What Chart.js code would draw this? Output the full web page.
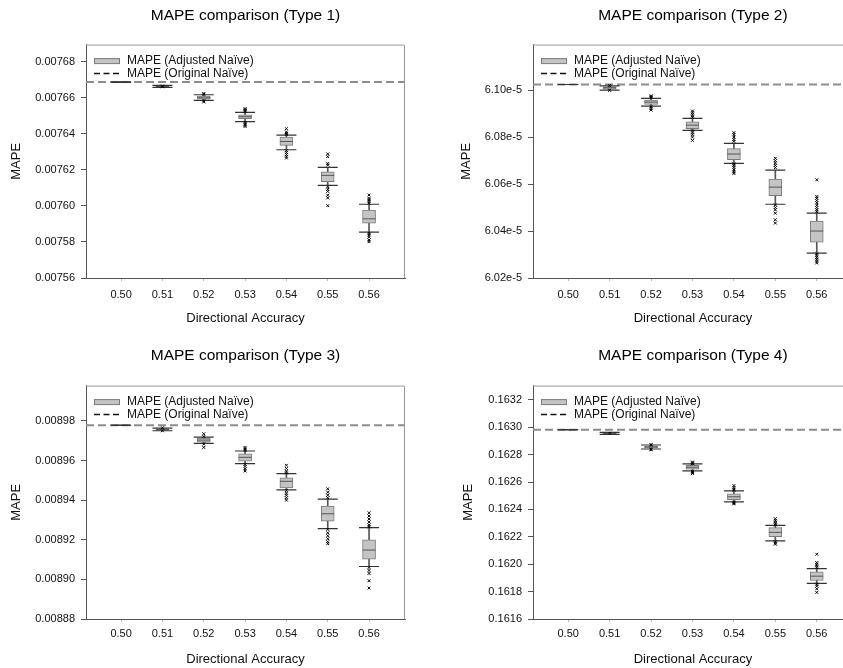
<!DOCTYPE html>
<html>
<head>
<meta charset="utf-8">
<title>MAPE comparison</title>
<script src="https://cdn.jsdelivr.net/npm/chart.js@4.4.1/dist/chart.umd.min.js"></script>
<style>
  html, body { margin: 0; padding: 0; background: #fff; }
  body { width: 843px; height: 668px; overflow: hidden; position: relative; }
  .panel { position: absolute; }
</style>
</head>
<body>
<div class="panel" style="left:0px;top:0px;width:420px;height:334px"><canvas id="chart1" width="420" height="334"></canvas></div>
<div class="panel" style="left:420px;top:0px;width:444px;height:334px"><canvas id="chart2" width="444" height="334"></canvas></div>
<div class="panel" style="left:0px;top:334px;width:420px;height:334px"><canvas id="chart3" width="420" height="334"></canvas></div>
<div class="panel" style="left:420px;top:334px;width:444px;height:334px"><canvas id="chart4" width="444" height="334"></canvas></div>

<script>
// ============================================
// DATA
// ============================================
var accuracy = [0.50, 0.51, 0.52, 0.53, 0.54, 0.55, 0.56];

// Type 1
var t1Ref = 0.0076686;
var t1Low    = [0.0076686, 0.0076657, 0.0076585, 0.0076467, 0.0076311, 0.0076113, 0.0075854];
var t1Q1     = [0.0076686, 0.0076659, 0.0076592, 0.0076483, 0.0076335, 0.0076134, 0.0075904];
var t1Median = [0.0076686, 0.0076662, 0.0076599, 0.0076494, 0.0076357, 0.0076169, 0.0075928];
var t1Q3     = [0.0076686, 0.0076666, 0.0076609, 0.0076505, 0.0076381, 0.0076189, 0.0075976];
var t1High   = [0.0076686, 0.0076668, 0.0076616, 0.0076518, 0.0076392, 0.0076213, 0.0076009];
var t1Outliers = [
    [],
    [0.0076664, 0.0076660],
    [0.0076623, 0.0076619, 0.0076582, 0.0076576],
    [0.0076539, 0.0076533, 0.0076527, 0.0076522, 0.0076463, 0.0076455, 0.0076447, 0.0076440],
    [0.0076428, 0.0076410, 0.0076402, 0.0076396, 0.0076305, 0.0076295, 0.0076285, 0.0076275, 0.0076265],
    [0.0076288, 0.0076273, 0.0076235, 0.0076226, 0.0076105, 0.0076092, 0.0076080, 0.0076059, 0.0076044, 0.0076001],
    [0.0076060, 0.0076042, 0.0076033, 0.0076024, 0.0076015, 0.0075848, 0.0075839, 0.0075826, 0.0075811, 0.0075801]
];
var t1Ticks = [0.00756, 0.00758, 0.00760, 0.00762, 0.00764, 0.00766, 0.00768];

// Type 2
var t2Ref = 6.1024e-5;
var t2Low    = [6.1024e-5, 6.1000e-5, 6.0932e-5, 6.0829e-5, 6.0688e-5, 6.0514e-5, 6.0306e-5];
var t2Q1     = [6.1024e-5, 6.1004e-5, 6.0939e-5, 6.0836e-5, 6.0704e-5, 6.0551e-5, 6.0353e-5];
var t2Median = [6.1024e-5, 6.1010e-5, 6.0949e-5, 6.0851e-5, 6.0728e-5, 6.0587e-5, 6.0400e-5];
var t2Q3     = [6.1024e-5, 6.1014e-5, 6.0958e-5, 6.0865e-5, 6.0751e-5, 6.0621e-5, 6.0442e-5];
var t2High   = [6.1024e-5, 6.1018e-5, 6.0965e-5, 6.0880e-5, 6.0773e-5, 6.0659e-5, 6.0476e-5];
var t2Outliers = [
    [],
    [6.1020e-5, 6.0999e-5],
    [6.0976e-5, 6.0972e-5, 6.0968e-5, 6.0929e-5, 6.0922e-5, 6.0915e-5],
    [6.0911e-5, 6.0904e-5, 6.0897e-5, 6.0890e-5, 6.0884e-5, 6.0826e-5, 6.0818e-5, 6.0810e-5, 6.0800e-5, 6.0786e-5],
    [6.0819e-5, 6.0810e-5, 6.0800e-5, 6.0790e-5, 6.0782e-5, 6.0686e-5, 6.0678e-5, 6.0670e-5, 6.0660e-5, 6.0652e-5, 6.0645e-5],
    [6.0710e-5, 6.0700e-5, 6.0690e-5, 6.0680e-5, 6.0670e-5, 6.0511e-5, 6.0500e-5, 6.0490e-5, 6.0476e-5, 6.0448e-5, 6.0434e-5],
    [6.0618e-5, 6.0547e-5, 6.0540e-5, 6.0530e-5, 6.0520e-5, 6.0510e-5, 6.0500e-5, 6.0490e-5, 6.0482e-5,
     6.0302e-5, 6.0295e-5, 6.0288e-5, 6.0280e-5, 6.0272e-5, 6.0264e-5]
];
var t2Ticks = [6.02e-5, 6.04e-5, 6.06e-5, 6.08e-5, 6.10e-5];

// Type 3
var t3Ref = 0.0089778;
var t3Low    = [0.0089778, 0.0089750, 0.0089686, 0.0089584, 0.0089452, 0.0089256, 0.0089065];
var t3Q1     = [0.0089778, 0.0089753, 0.0089693, 0.0089597, 0.0089462, 0.0089294, 0.0089102];
var t3Median = [0.0089778, 0.0089756, 0.0089703, 0.0089616, 0.0089495, 0.0089331, 0.0089148];
var t3Q3     = [0.0089778, 0.0089760, 0.0089713, 0.0089634, 0.0089512, 0.0089370, 0.0089199];
var t3High   = [0.0089778, 0.0089763, 0.0089718, 0.0089648, 0.0089534, 0.0089405, 0.0089261];
var t3Outliers = [
    [],
    [0.0089765, 0.0089750],
    [0.0089735, 0.0089721, 0.0089683, 0.0089666],
    [0.0089666, 0.0089658, 0.0089650, 0.0089581, 0.0089570, 0.0089558, 0.0089547],
    [0.0089576, 0.0089560, 0.0089546, 0.0089537, 0.0089448, 0.0089435, 0.0089425, 0.0089412, 0.0089400],
    [0.0089457, 0.0089440, 0.0089425, 0.0089412, 0.0089252, 0.0089235, 0.0089220, 0.0089205, 0.0089190, 0.0089180],
    [0.0089336, 0.0089320, 0.0089305, 0.0089290, 0.0089275, 0.0089265, 0.0089060, 0.0089045, 0.0089030, 0.0088993, 0.0088956]
];
var t3Ticks = [0.00888, 0.00890, 0.00892, 0.00894, 0.00896, 0.00898];

// Type 4
var t4Ref = 0.1629818;
var t4Low    = [0.1629818, 0.1629479, 0.1628412, 0.1626812, 0.1624558, 0.1621697, 0.1618594];
var t4Q1     = [0.1629818, 0.1629503, 0.1628485, 0.1626933, 0.1624703, 0.1622012, 0.1618812];
var t4Median = [0.1629818, 0.1629552, 0.1628558, 0.1627079, 0.1624921, 0.1622327, 0.1619127];
var t4Q3     = [0.1629818, 0.1629600, 0.1628630, 0.1627224, 0.1625139, 0.1622667, 0.1619442];
var t4High   = [0.1629818, 0.1629624, 0.1628703, 0.1627321, 0.1625358, 0.1622836, 0.1619685];
var t4Outliers = [
    [],
    [0.1629560],
    [0.1628740, 0.1628700, 0.1628400, 0.1628350],
    [0.1627460, 0.1627400, 0.1627340, 0.1626780, 0.1626700, 0.1626620],
    [0.1625740, 0.1625600, 0.1625480, 0.1625400, 0.1624530, 0.1624470, 0.1624410],
    [0.1623320, 0.1623200, 0.1623080, 0.1622960, 0.1622870, 0.1621650, 0.1621550, 0.1621460],
    [0.1620727, 0.1620121, 0.1620000, 0.1619880, 0.1619750, 0.1618545, 0.1618400, 0.1618200, 0.1617939]
];
var t4Ticks = [0.1616, 0.1618, 0.1620, 0.1622, 0.1624, 0.1626, 0.1628, 0.1630, 0.1632];

var adjustedLabel = 'MAPE (Adjusted Na\u00efve)';
var originalLabel = 'MAPE (Original Na\u00efve)';

// ============================================
// CHART SETUP
// ============================================
Chart.defaults.font.family = "'Liberation Sans', Arial, sans-serif";
Chart.defaults.color = '#111';

var xMin = 0.4915, xMax = 0.5687;

// Frame: top and right edges of the plot box
var framePlugin = {
    id: 'frame',
    beforeDatasetsDraw: function(chart) {
        var ctx = chart.ctx, a = chart.chartArea;
        ctx.save();
        ctx.strokeStyle = '#9a9a9a';
        ctx.lineWidth = 1;
        ctx.beginPath();
        ctx.moveTo(a.left, a.top + 0.5);
        ctx.lineTo(a.right - 0.5, a.top + 0.5);
        ctx.lineTo(a.right - 0.5, a.bottom);
        ctx.stroke();
        ctx.restore();
    }
};

// Legend drawn inside the plot, top-left
var insideLegend = {
    id: 'insideLegend',
    afterDraw: function(chart) {
        var ctx = chart.ctx, a = chart.chartArea;
        var sets = chart.data.datasets;
        var boxSet, refSet;
        for (var i = 0; i < sets.length; i++) {
            if (sets[i].legendKind === 'box') boxSet = sets[i];
            if (sets[i].legendKind === 'ref') refSet = sets[i];
        }
        var x0 = a.left + 8, w = 26, tx = a.left + 41;
        var y1 = a.top + 16.5, y2 = a.top + 29;
        ctx.save();
        // box swatch
        ctx.fillStyle = boxSet.backgroundColor;
        ctx.strokeStyle = boxSet.borderColor;
        ctx.lineWidth = 1;
        ctx.fillRect(x0, y1 - 2.5, w, 5);
        ctx.strokeRect(x0 + 0.5, y1 - 2.5, w - 1, 5);
        // dashed swatch
        ctx.strokeStyle = '#111';
        ctx.lineWidth = 1.5;
        ctx.setLineDash([6, 3.5]);
        ctx.beginPath();
        ctx.moveTo(x0, y2);
        ctx.lineTo(x0 + w, y2);
        ctx.stroke();
        ctx.setLineDash([]);
        ctx.fillStyle = '#111';
        ctx.font = "12px 'Liberation Sans', Arial, sans-serif";
        ctx.textBaseline = 'middle';
        ctx.textAlign = 'left';
        ctx.fillText(boxSet.label, tx, y1);
        ctx.fillText(refSet.label, tx, y2);
        ctx.restore();
    }
};

function points(values) {
    var out = [];
    for (var i = 0; i < accuracy.length; i++) {
        out.push({ x: accuracy[i], y: values[i] });
    }
    return out;
}

function makeChart(id, p) {
    var whiskers = [], boxes = [], caps = [], outliers = [];
    for (var i = 0; i < accuracy.length; i++) {
        whiskers.push({ x: accuracy[i], y: [p.low[i], p.high[i]] });
        boxes.push({ x: accuracy[i], y: [p.q1[i], p.q3[i]] });
        caps.push({ x: accuracy[i], y: p.low[i] });
        caps.push({ x: accuracy[i], y: p.high[i] });
        for (var k = 0; k < p.outliers[i].length; k++) {
            outliers.push({ x: accuracy[i], y: p.outliers[i][k] });
        }
    }

    var ctx = document.getElementById(id).getContext('2d');
    return new Chart(ctx, {
        type: 'bar',
        data: {
            datasets: [
                { type: 'line', label: originalLabel, legendKind: 'ref',
                  data: [{ x: xMin, y: p.ref }, { x: xMax, y: p.ref }],
                  borderColor: '#8c8c8c', borderWidth: 2, borderDash: [8, 4],
                  pointRadius: 0, order: 6 },
                { type: 'bar', label: 'whiskers', data: whiskers, grouped: false,
                  barThickness: 1, backgroundColor: '#555', order: 5 },
                { type: 'bar', label: adjustedLabel, legendKind: 'box', data: boxes, grouped: false,
                  barThickness: 13, backgroundColor: '#c4c4c4', borderColor: '#7a7a7a',
                  borderWidth: 1, borderSkipped: false, order: 4 },
                { type: 'line', label: 'median', data: points(p.median), showLine: false,
                  pointStyle: 'line', pointRadius: 6.5, pointBorderColor: '#555',
                  pointBorderWidth: 1, order: 3 },
                { type: 'line', label: 'caps', data: caps, showLine: false,
                  pointStyle: 'line', pointRadius: 10, pointBorderColor: '#333',
                  pointBorderWidth: 1.2, order: 2 },
                { type: 'line', label: 'outliers', data: outliers, showLine: false,
                  pointStyle: 'crossRot', pointRadius: 2, pointBorderColor: '#000',
                  pointBorderWidth: 1, order: 1 }
            ]
        },
        options: {
            responsive: false,
            animation: false,
            events: [],
            layout: { padding: { left: 0, right: p.padRight, top: 0, bottom: p.padBottom } },
            plugins: {
                legend: { display: false },
                tooltip: { enabled: false },
                title: {
                    display: true,
                    fullSize: false,
                    text: p.title,
                    color: '#000',
                    font: { size: 15.5, weight: 'normal' },
                    padding: p.titlePad
                }
            },
            scales: {
                x: {
                    type: 'linear',
                    min: xMin,
                    max: xMax,
                    offset: false,
                    afterFit: function(scale) { scale.height = 48; },
                    afterBuildTicks: function(scale) {
                        scale.ticks = accuracy.map(function(v) { return { value: v }; });
                    },
                    ticks: {
                        padding: p.xTickPad,
                        font: { size: 11 },
                        color: '#111',
                        maxRotation: 0,
                        callback: function(v) { return Number(v).toFixed(2); }
                    },
                    grid: { drawOnChartArea: false, drawTicks: true, tickLength: 3, color: '#bbbbbb', offset: false },
                    border: { display: true, color: '#555', width: 1 },
                    title: { display: true, text: 'Directional Accuracy', color: '#111',
                             font: { size: 13 }, padding: { top: 0, bottom: 0 } }
                },
                y: {
                    type: 'linear',
                    min: p.yMin,
                    max: p.yMax,
                    afterFit: function(scale) { scale.width = p.yWidth; },
                    afterBuildTicks: function(scale) {
                        scale.ticks = p.ticks.map(function(v) { return { value: v }; });
                    },
                    ticks: {
                        padding: 6,
                        font: { size: 11 },
                        color: '#111',
                        callback: p.fmt
                    },
                    grid: { drawOnChartArea: false, drawTicks: true, tickLength: 5, color: '#555' },
                    border: { display: true, color: '#555', width: 1 },
                    title: { display: true, text: 'MAPE', color: '#111',
                             font: { size: 13 }, padding: { top: p.yTitlePad, bottom: 0 } }
                }
            }
        },
        plugins: [framePlugin, insideLegend]
    });
}

document.addEventListener('DOMContentLoaded', function() {
    makeChart('chart1', {
        title: 'MAPE comparison (Type 1)', ref: t1Ref,
        low: t1Low, q1: t1Q1, median: t1Median, q3: t1Q3, high: t1High, outliers: t1Outliers,
        ticks: t1Ticks, yMin: 0.00756, yMax: 0.0076894,
        fmt: function(v) { return Number(v).toFixed(5); },
        yWidth: 86, padRight: 15, padBottom: 8, titlePad: { top: 6, bottom: 20 },
        xTickPad: 7, yTitlePad: 9
    });
    makeChart('chart2', {
        title: 'MAPE comparison (Type 2)', ref: t2Ref,
        low: t2Low, q1: t2Q1, median: t2Median, q3: t2Q3, high: t2High, outliers: t2Outliers,
        ticks: t2Ticks, yMin: 6.02e-5, yMax: 6.1194e-5,
        fmt: function(v) { return Number(v).toExponential(2); },
        yWidth: 113, padRight: 0, padBottom: 8, titlePad: { top: 6, bottom: 20 },
        xTickPad: 7, yTitlePad: 39
    });
    makeChart('chart3', {
        title: 'MAPE comparison (Type 3)', ref: t3Ref,
        low: t3Low, q1: t3Q1, median: t3Median, q3: t3Q3, high: t3High, outliers: t3Outliers,
        ticks: t3Ticks, yMin: 0.00888, yMax: 0.0089978,
        fmt: function(v) { return Number(v).toFixed(5); },
        yWidth: 86, padRight: 15, padBottom: 1, titlePad: { top: 12, bottom: 21 },
        xTickPad: 5, yTitlePad: 9
    });
    makeChart('chart4', {
        title: 'MAPE comparison (Type 4)', ref: t4Ref,
        low: t4Low, q1: t4Q1, median: t4Median, q3: t4Q3, high: t4High, outliers: t4Outliers,
        ticks: t4Ticks, yMin: 0.1616, yMax: 0.163304,
        fmt: function(v) { return Number(v).toFixed(4); },
        yWidth: 113, padRight: 0, padBottom: 1, titlePad: { top: 12, bottom: 21 },
        xTickPad: 5, yTitlePad: 41
    });
});
</script>
</body>
</html>
